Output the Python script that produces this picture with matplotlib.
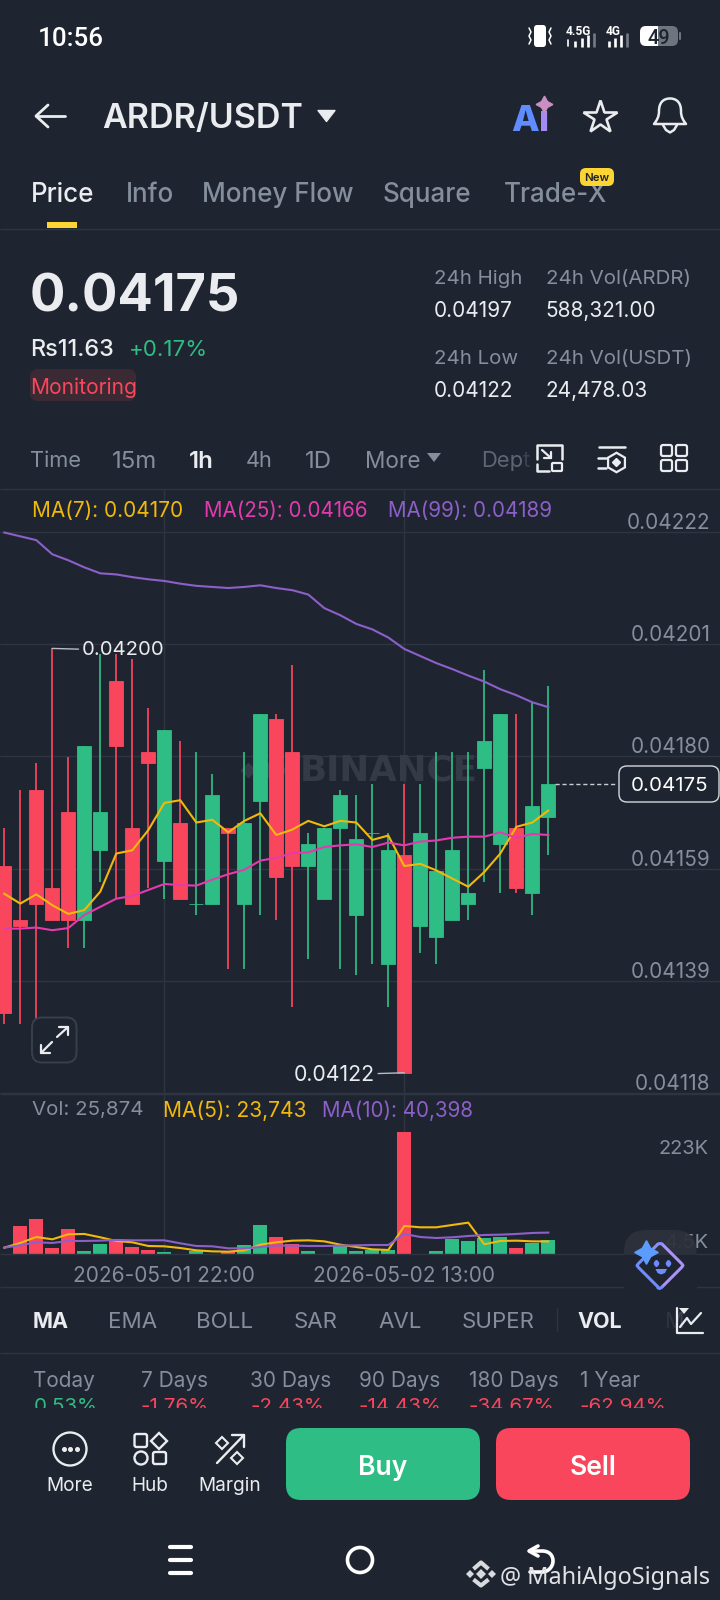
import matplotlib
matplotlib.use("Agg")
import matplotlib.pyplot as plt
import numpy as np
from matplotlib.patches import FancyBboxPatch, Circle, Rectangle, Polygon, PathPatch
from matplotlib.path import Path

# candles, 1h, oldest first
opens = [0.04160, 0.04150, 0.04174, 0.04156, 0.04170, 0.04150, 0.04163, 0.04194, 0.04167, 0.04181,
         0.04161, 0.04168, 0.04153, 0.04153, 0.04167, 0.04153, 0.04172, 0.04187, 0.04181, 0.04160,
         0.04154, 0.04167, 0.04151, 0.04166, 0.04142, 0.04162, 0.04149, 0.04147, 0.04150, 0.04153,
         0.04178, 0.04164, 0.04167, 0.04155, 0.04169]
closes = [0.04133, 0.04149, 0.04153, 0.04150, 0.04150, 0.04182, 0.04170, 0.04182, 0.04153, 0.04179,
          0.04185, 0.04154, 0.04153, 0.04173, 0.04166, 0.04168, 0.04188, 0.04158, 0.04160, 0.04164,
          0.04167, 0.04173, 0.04165, 0.04166, 0.04163, 0.04122, 0.04166, 0.04159, 0.04163, 0.04155,
          0.04183, 0.04188, 0.04156, 0.04171, 0.04175]
highs = [0.04167, 0.04174, 0.04179, 0.04200, 0.04180, 0.04182, 0.04199, 0.04199, 0.04198, 0.04189,
         0.04185, 0.04183, 0.04181, 0.04177, 0.04167, 0.04181, 0.04188, 0.04188, 0.04197, 0.04166,
         0.04167, 0.04174, 0.04173, 0.04175, 0.04166, 0.04175, 0.04175, 0.04181, 0.04181, 0.04181,
         0.04196, 0.04188, 0.04188, 0.04190, 0.04193]
lows = [0.04131, 0.04131, 0.04127, 0.04150, 0.04145, 0.04145, 0.04157, 0.04154, 0.04153, 0.04156,
        0.04154, 0.04154, 0.04151, 0.04153, 0.04141, 0.04141, 0.04151, 0.04150, 0.04134, 0.04143,
        0.04154, 0.04141, 0.04140, 0.04142, 0.04134, 0.04122, 0.04144, 0.04142, 0.04150, 0.04150,
        0.04157, 0.04155, 0.04155, 0.04151, 0.04162]

ma7 = [4154.9, 4153.1, 4154.8, 4152.8, 4151.2, 4151.9, 4155.3, 4162.3, 4162.9, 4166.6,
       4171.6, 4172.1, 4168.0, 4168.5, 4166.2, 4168.3, 4169.7, 4165.7, 4166.7, 4168.3,
       4167.3, 4168.3, 4168.0, 4164.8, 4165.6, 4160.0, 4160.4, 4159.2, 4157.7, 4156.2,
       4158.9, 4162.3, 4167.2, 4168.0, 4170.2]
ma25 = [4148.5, 4148.5, 4148.7, 4148.2, 4148.6, 4151.0, 4152.5, 4154.0, 4154.5, 4155.6,
        4156.7, 4156.5, 4156.4, 4157.5, 4158.5, 4159.3, 4161.0, 4161.5, 4162.4, 4162.5,
        4163.5, 4163.8, 4164.0, 4163.5, 4164.3, 4163.8, 4164.5, 4164.7, 4165.2, 4165.4,
        4165.4, 4166.2, 4165.2, 4165.9, 4165.7]
ma99 = [4221.3, 4220.6, 4219.9, 4217.3, 4216.2, 4214.9, 4213.8, 4213.6, 4213.1, 4212.7,
        4212.4, 4211.9, 4211.5, 4211.3, 4211.1, 4211.3, 4211.6, 4211.1, 4210.7, 4209.9,
        4207.4, 4206.1, 4204.5, 4203.5, 4202.0, 4199.9, 4198.6, 4197.3, 4196.2, 4195.0,
        4193.9, 4192.5, 4191.4, 4190.1, 4189.2]

# volume in thousands
volumes = [0.3, 53.5, 65.5, 11.3, 47.8, 6.2, 19.5, 28.9, 12.7, 7.0,
           3.2, 0.3, 6.2, 0.3, 4.3, 16.4, 54.2, 31.5, 18.9, 5.1,
           0.3, 16.4, 6.2, 7.6, 7.0, 230.0, 0.3, 6.2, 28.3, 24.6,
           30.8, 31.5, 11.3, 20.8, 25.9]
vol_ma5 = [12.0, 20.8, 32.1, 27.7, 37.2, 37.8, 31.5, 24.6, 22.1, 15.1,
           14.5, 11.3, 6.9, 5.0, 4.4, 6.9, 17.6, 22.1, 25.2, 25.8,
           23.9, 17.6, 13.2, 8.8, 7.6, 52.9, 50.4, 50.4, 54.8, 59.2,
           18.3, 24.6, 25.2, 23.9, 23.7]
vol_ma10 = [12.0, 16.4, 22.1, 20.8, 24.6, 24.6, 25.2, 26.5, 25.8, 25.8,
            25.8, 20.2, 15.1, 14.5, 10.7, 10.7, 13.2, 15.8, 15.8, 15.1,
            15.1, 15.8, 16.4, 17.0, 17.0, 37.8, 32.1, 30.2, 31.5, 34.0,
            35.9, 36.5, 37.8, 39.7, 40.4]

grid_prices = [0.042214, 0.042008, 0.041802, 0.041595, 0.041389, 0.041183]
grid_labels = ["0.04222", "0.04201", "0.04180", "0.04159", "0.04139", "0.04118"]
date_idx = [10, 25]
date_labels = ["2026-05-01 22:00", "2026-05-02 13:00"]
last_price = 0.04175

tabs = ["Price", "Info", "Money Flow", "Square", "Trade-X"]
intervals = ["Time", "15m", "1h", "4h", "1D", "More"]
indicators = ["MA", "EMA", "BOLL", "SAR", "AVL", "SUPER", "VOL"]
perf_names = ["Today", "7 Days", "30 Days", "90 Days", "180 Days", "1 Year"]
perf_values = ["0.53%", "-1.76%", "-2.43%", "-14.43%", "-34.67%", "-62.94%"]

BG = "#1f2530"
GRID = "#2e3440"
GREEN = "#2ebd85"
RED = "#fa465d"
ORANGE = "#f0b90b"
PINK = "#e33bae"
PURPLE = "#8c5fc9"
GREY = "#848e9c"
LIGHT = "#eaecef"
FONT = "Inter"

plt.rcParams["font.family"] = [FONT, "DejaVu Sans"]
fig = plt.figure(figsize=(7.2, 16), dpi=100, facecolor=BG)
W, H = 720.0, 1600.0


def make_axes(top, bottom):
    ax = fig.add_axes([0, 1 - bottom / H, 1, (bottom - top) / H], facecolor="none")
    ax.set_xlim(-4.3 / 16, (W - 4.3) / 16)
    for s in ax.spines.values():
        s.set_visible(False)
    ax.tick_params(length=0)
    return ax


idx = np.arange(len(opens))
o, c, hi, lo = map(np.array, (opens, closes, highs, lows))
colors = [GREEN if b >= a else RED for a, b in zip(o, c)]

# price panel
ax = make_axes(489, 1094)
ax.set_ylim(0.041181, 0.042293)
ax.set_yticks([])
ax.set_xticks([])
ax.hlines(grid_prices, ax.get_xlim()[0], ax.get_xlim()[1], color=GRID, lw=1.0, zorder=1)
ax.axvline(date_idx[0], color=GRID, lw=1.0, zorder=1)
ax.axvline(date_idx[1], color=GRID, lw=1.0, zorder=1)
# exchange watermark sits behind the candles
ax.text(24.04, 0.041776, "BINANCE", ha="center", va="center", color="#343b47",
        fontsize=25.7, fontweight="bold", zorder=1.5, family="DejaVu Sans")
ax.plot([15.2, 16.5, 17.8], [0.041776, 0.041776, 0.041776], ls="none", marker="D", ms=7,
        color="#343b47", zorder=1.5)
ax.vlines(idx, lo, hi, color=colors, lw=1.25, zorder=2)
ax.bar(idx, np.abs(c - o), bottom=np.minimum(o, c), width=0.875, color=colors,
       edgecolor=colors, lw=0.6, zorder=3)
ax.plot(idx, np.array(ma7) / 1e5, color=ORANGE, lw=1.5, zorder=4)
ax.plot(idx, np.array(ma25) / 1e5, color=PINK, lw=1.5, zorder=4)
ax.plot(idx, np.array(ma99) / 1e5, color=PURPLE, lw=1.5, zorder=4)
ax.plot([34.4, 38.2], [last_price, last_price], color="#c9ccd1", lw=1.0, dashes=(3, 2), zorder=4)
for p, lab in zip(grid_prices, grid_labels):
    ax.annotate(lab, (1, p), xycoords=ax.get_yaxis_transform(), xytext=(-9.5, 9),
                textcoords="offset pixels", ha="right", va="center", color=GREY, fontsize=14.9)
ax.annotate("0.04200", xy=(3, 0.04200), xytext=(29, -2), textcoords="offset pixels",
            va="center", ha="left", color=LIGHT, fontsize=14.6, zorder=5,
            arrowprops=dict(arrowstyle="-", color="#b7bcc4", lw=1.0, shrinkA=0, shrinkB=0))
ax.annotate("0.04122", xy=(25, 0.04122), xytext=(-29, -2), textcoords="offset pixels",
            va="center", ha="right", color=LIGHT, fontsize=15.3, zorder=5,
            arrowprops=dict(arrowstyle="-", color="#b7bcc4", lw=1.0, shrinkA=0, shrinkB=0))

# volume panel
ax2 = make_axes(1094, 1254)
ax2.set_ylim(0, 302)
ax2.set_yticks([])
ax2.axvline(date_idx[0], color=GRID, lw=1.0, zorder=1)
ax2.axvline(date_idx[1], color=GRID, lw=1.0, zorder=1)
ax2.bar(idx, volumes, width=0.875, color=colors, zorder=3)
ax2.plot(idx, vol_ma5, color=ORANGE, lw=1.5, zorder=4)
ax2.plot(idx, vol_ma10, color=PURPLE, lw=1.5, zorder=4)
ax2.set_xticks(date_idx)
ax2.set_xticklabels(date_labels, color=GREY, fontsize=15)
ax2.tick_params(axis="x", pad=8.5)

# everything around the chart, in screen pixels
ui = fig.add_axes([0, 0, 1, 1], facecolor="none")
ui.set_xlim(0, W)
ui.set_ylim(H, 0)
ui.axis("off")


def txt(x, y, s, px, color=LIGHT, ha="left", weight="normal", family=None, z=10, alpha=None):
    fam = family if family else [FONT, "DejaVu Sans"]
    return ui.text(x, y, s, fontsize=px * 0.72, color=color, ha=ha, va="center_baseline",
                   fontweight=weight, family=fam, zorder=z, alpha=alpha)


def line(xs, ys, color=LIGHT, lw=1.5, z=10, cap="round"):
    ui.plot(xs, ys, color=color, lw=lw, zorder=z, solid_capstyle=cap, solid_joinstyle="round")


def rrect(x0, y0, x1, y1, r, fc="none", ec="none", lw=0, z=9, alpha=None):
    ui.add_patch(FancyBboxPatch((x0 + r, y0 + r), x1 - x0 - 2 * r, y1 - y0 - 2 * r,
                                boxstyle=f"round,pad={r},rounding_size={r}", fc=fc, ec=ec, lw=lw,
                                zorder=z, alpha=alpha))


def hline(y, x0=0, x1=W, color=GRID):
    ui.plot([x0, x1], [y, y], color=color, lw=1.0, zorder=2, solid_capstyle="butt")


for y in (228.5, 489, 1094, 1254, 1287, 1353):
    hline(y)

# status bar
txt(37.5, 36, "10:56", 26, "#ffffff", weight="medium", family="Roboto")
rrect(534, 25, 546, 47, 3, fc="#ffffff")
for sx, d in ((529, -1), (551, 1)):
    line([sx, sx - 2 * d, sx, sx - 2 * d, sx], [28, 32, 36, 40, 44], "#ffffff", 1.1)
txt(566, 30, "4.5G", 12, "#ffffff", weight="bold", family="Roboto")
txt(606, 30, "4G", 12, "#ffffff", weight="bold", family="Roboto")
line([568, 568], [40, 46], "#ffffff", 1.2)
for bx, top, col in ((575, 41, "#ffffff"), (582, 38, "#ffffff"), (588, 35, "#ffffff"), (594, 33, "#757b85"),
                     (609, 41, "#ffffff"), (615, 38, "#ffffff"), (621, 35, "#ffffff"), (627, 33, "#757b85")):
    line([bx, bx], [top, 46.5], col, 1.9, cap="butt")
rrect(640, 26, 678, 46, 6, fc="#6f757f")
rrect(640, 26, 662, 46, 6, fc="#ffffff", z=9.1)
ui.add_patch(Rectangle((657.5, 26), 8, 20, fc="#6f757f", zorder=9.2))
txt(659, 36, "49", 20, "#1f2530", ha="center", weight="medium", family="Roboto")
rrect(679, 32, 681, 40, 1, fc="#6f757f")

# nav bar
line([65, 36], [116, 116], LIGHT, 2.0)
line([48, 36, 48], [105, 116, 127], LIGHT, 2.0)
txt(102, 116, "ARDR/USDT", 34, LIGHT, weight="semibold")
ui.add_patch(Polygon([(318, 110.5), (335, 110.5), (326.5, 121.5)], fc=LIGHT, ec=LIGHT, lw=1, joinstyle="round", zorder=10))
txt(511, 118, "A", 36, "#5f8dff", weight="heavy")
txt(538, 118, "i", 36, "#a68cf2", weight="heavy")
ui.plot([544], [104], marker=(4, 1, 0), ms=12, color="#c98fc4", zorder=11)
ui.plot([600], [116.5], marker="*", ms=25, mfc="none", mec=LIGHT, mew=1.9, zorder=10)
bell = Path([(654, 124), (657, 120), (659, 117), (659, 111), (659, 103), (663, 98.5), (670, 98.5),
             (677, 98.5), (681, 103), (681, 111), (681, 117), (683, 120), (686, 124), (654, 124), (654, 124)],
            [Path.MOVETO, Path.CURVE4, Path.CURVE4, Path.CURVE4, Path.CURVE4, Path.CURVE4, Path.CURVE4,
             Path.CURVE4, Path.CURVE4, Path.CURVE4, Path.CURVE4, Path.CURVE4, Path.CURVE4, Path.LINETO,
             Path.CLOSEPOLY])
ui.add_patch(PathPatch(bell, fc="none", ec=LIGHT, lw=1.8, joinstyle="round", zorder=10))
line([663, 666, 670, 674, 677], [125, 130, 132.5, 130, 125], LIGHT, 1.8)

# tabs
for s, x, col in zip(tabs, (30.5, 125.5, 201.5, 382.5, 503.5), (LIGHT, GREY, GREY, GREY, GREY)):
    txt(x, 191.5, s, 26, col, weight="medium")
ui.add_patch(Rectangle((47, 222), 30, 6, fc="#fcd535", zorder=10))
rrect(580, 168, 614, 186, 6, fc="#fcd535", z=11)
txt(597, 177, "New", 11.5, "#1e2329", ha="center", weight="semibold", z=12)

# header numbers
txt(29.5, 292.5, "0.04175", 52.5, LIGHT, weight="bold")
txt(30.5, 347.5, "Rs11.63", 23.5, LIGHT, weight="medium")
txt(129, 347.5, "+0.17%", 22.3, GREEN)
rrect(30, 369, 136, 401, 8, fc="#3b2a33")
txt(30, 386, "Monitoring", 21, RED, z=10)
for x, a, b, d, e in ((434, "24h High", "0.04197", "24h Low", "0.04122"),
                      (546, "24h Vol(ARDR)", "588,321.00", "24h Vol(USDT)", "24,478.03")):
    txt(x, 277, a, 20.5, GREY)
    txt(x - 0.5, 309, b, 20.8, LIGHT)
    txt(x, 357, d, 20.5, GREY)
    txt(x - 0.5, 389, e, 20.8, LIGHT)

# interval row
for s, x, px in zip(intervals, (30, 112, 188.5, 246, 304.5, 365),
                    (21.8, 24, 24, 21.8, 24, 22.5)):
    txt(x, 459, s, px, LIGHT if s == "1h" else GREY, weight="semibold" if s == "1h" else "normal")
ui.add_patch(Polygon([(427, 453), (441, 453), (434, 462)], fc=GREY, zorder=10))
txt(481, 459, "Dep", 22, "#5e6673")
txt(523, 459, "t", 22, "#3a414c")
# split-view icon
line([537, 537, 562, 562], [459, 445, 445, 459], LIGHT, 1.8)
line([537, 537, 549], [464, 471, 471], LIGHT, 1.8)
rrect(552, 463, 562, 471, 1, ec=LIGHT, lw=1.6)
line([542, 551], [450, 458], LIGHT, 1.6)
line([551, 551, 544], [452, 458, 458], LIGHT, 1.6)
# settings icon
line([599, 625], [447, 447], LIGHT, 1.8)
line([598, 606], [458, 458], LIGHT, 1.8)
line([598, 606], [468, 468], LIGHT, 1.8)
ui.plot([616], [462], marker="h", ms=14, mfc="none", mec=LIGHT, mew=1.6, zorder=10)
ui.plot([616], [462], marker="D", ms=4, color=LIGHT, zorder=10)
# layout icon
for gx in (661, 676):
    for gy in (445, 460):
        rrect(gx, gy, gx + 11, gy + 11, 2, ec=LIGHT, lw=1.6)

# chart legends
txt(32, 509, "MA(7): 0.04170", 20.8, ORANGE)
txt(204, 509, "MA(25): 0.04166", 20.6, PINK)
txt(387.5, 509, "MA(99): 0.04189", 20.6, PURPLE)
txt(32.5, 1108.5, "Vol: 25,874", 20.5, GREY)
txt(163, 1108.5, "MA(5): 23,743", 21, ORANGE)
txt(322.5, 1108.5, "MA(10): 40,398", 20.6, PURPLE)
txt(709, 1147, "223K", 20, GREY, ha="right")
txt(709, 1241, "4.5K", 20, GREY, ha="right", z=7)

# last price tag
rrect(619, 766, 719, 802, 8, fc=BG, ec="#d5d8dc", lw=1.0)
txt(669, 784, "0.04175", 20.5, "#ffffff", ha="center")

# expand button
rrect(32, 1017.5, 76.5, 1062.5, 10, fc=BG, ec="#3a404b", lw=1.4)
line([41, 52], [1053, 1042], LIGHT, 1.6)
line([41, 41, 50], [1045, 1053, 1053], LIGHT, 1.6)
line([57, 68], [1037, 1027], LIGHT, 1.6)
line([59, 68, 68], [1027, 1027, 1035], LIGHT, 1.6)

# assistant bubble
rrect(624, 1230, 696.5, 1278, 22, fc="#2c313b", z=8, alpha=0.93)
ui.add_patch(Rectangle((624, 1254.5), 72.5, 34, fc=BG, zorder=8.2))
BLUE_A = "#6f8cff"
PURP_A = "#a993f5"
line([662, 681.5, 683, 681.5, 662], [1244, 1263.5, 1265.5, 1267.5, 1287], PURP_A, 2.2)
line([658, 660, 662], [1288, 1288.5, 1287], BLUE_A, 2.2)
line([658, 638.5, 637, 638.5, 643], [1287, 1267.5, 1265.5, 1263.5, 1259], BLUE_A, 2.2)
line([652, 658, 660, 662], [1250, 1244, 1243.5, 1244], "#8d8ff8", 2.2)
ui.plot([645.7], [1251.7], marker=(4, 1, 0), ms=17, color="#5b9dff", zorder=10)
ui.plot([655.7, 667.7], [1263, 1263], ls="none", marker="o", ms=4, mew=0, color="#6f8cff", zorder=10)
line([655.7, 655.7], [1261, 1265], "#6f8cff", 2.2)
line([667.7, 667.7], [1261, 1265], "#6f8cff", 2.2)
ui.add_patch(Polygon([(655.5, 1269), (667, 1269), (665, 1273), (661, 1274.5), (657.5, 1273)],
                     fc="#6f8cff", zorder=10))

# indicator row
for s, x in zip(indicators, (32.5, 108, 196.5, 293.5, 378.5, 461.5, 577.5)):
    on = s in ("MA", "VOL")
    txt(x, 1320.5, s, 22.3 if not on else 21.5, LIGHT if on else GREY, weight="bold" if on else "normal")
line([556.5, 556.5], [1308, 1331], GRID, 1.0)
txt(664, 1320.5, "M", 21.5, "#3a414c")
ui.add_patch(Rectangle((664, 1300), 12, 40, fc=BG, alpha=0.4, zorder=11))
line([677, 677, 703], [1308, 1333, 1333], LIGHT, 1.6, z=12)
line([680, 687, 691, 701], [1327, 1318, 1324, 1313], LIGHT, 1.6, z=12)
ui.add_patch(Polygon([(679, 1308), (689, 1308), (684, 1314)], fc=LIGHT, zorder=12))

# performance row, values are cut by the bottom bar
for s, v, x in zip(perf_names, perf_values, (33.5, 141, 250.5, 359, 469, 579.5)):
    txt(x, 1379, s, 20.8, GREY)
    txt(x, 1405.5, v, 20.5, GREEN if not v.startswith("-") else RED, z=3)
ui.add_patch(Rectangle((0, 1407.5), W, 192.5, fc=BG, zorder=4))

# bottom actions
ui.add_patch(Circle((70, 1449), 16.5, fc="none", ec=LIGHT, lw=1.7, zorder=10))
ui.plot([63.5, 70, 76.5], [1449, 1449, 1449], ls="none", marker="o", ms=2.6, color=LIGHT, zorder=10)
txt(70, 1484, "More", 19, LIGHT, ha="center")
rrect(134.5, 1434, 147, 1447, 2, ec=LIGHT, lw=1.7)
ui.add_patch(Polygon([(159, 1433), (167, 1441), (159, 1449), (151, 1441)], fc="none", ec=LIGHT, lw=1.7, zorder=10))
ui.add_patch(Circle((141, 1458), 6.5, fc="none", ec=LIGHT, lw=1.7, zorder=10))
rrect(153, 1452, 166, 1464, 2, ec=LIGHT, lw=1.7)
txt(150, 1484, "Hub", 19, LIGHT, ha="center")
line([217, 244], [1463, 1435], LIGHT, 1.7)
line([232, 244, 244], [1435, 1435, 1447], LIGHT, 1.7)
ui.plot([222, 236.5], [1443, 1458], ls="none", marker="D", ms=6, mfc="none", mec=LIGHT, mew=1.5, zorder=10)
txt(230, 1484, "Margin", 19, LIGHT, ha="center")
rrect(286, 1428, 480, 1500, 15, fc=GREEN)
rrect(496, 1428, 690, 1500, 15, fc=RED)
txt(383, 1465, "Buy", 26.5, "#ffffff", ha="center", weight="semibold")
txt(593, 1465, "Sell", 26.5, "#ffffff", ha="center", weight="semibold")

# system buttons
for y in (1547, 1560, 1573):
    line([170, 191], [y, y], "#ffffff", 3.0)
ui.add_patch(Circle((360, 1560), 12.5, fc="none", ec="#ffffff", lw=2.6, zorder=10))
back = Path([(530, 1551), (542, 1551), (550, 1551), (553, 1556), (553, 1561), (553, 1567), (548, 1572), (542, 1572), (530, 1572)],
            [Path.MOVETO, Path.LINETO, Path.CURVE4, Path.CURVE4, Path.CURVE4, Path.CURVE4, Path.CURVE4, Path.CURVE4, Path.LINETO])
ui.add_patch(PathPatch(back, fc="none", ec="#ffffff", lw=2.6, capstyle="round", zorder=10))
line([538, 529, 538], [1546, 1551, 1556], "#ffffff", 2.6)

# reposter's mark across the bottom corner
for mx, my, ms in ((470, 1574, 3.6), (491.5, 1574, 3.6), (481, 1574, 4.6)):
    ui.plot([mx], [my], marker="D", ms=ms, mew=0, color="#d8dade", zorder=12)
line([473.5, 481, 488.5], [1569, 1562.5, 1569], "#d8dade", 3.0, z=12, cap="butt")
line([473.5, 481, 488.5], [1579.5, 1585.5, 1579.5], "#d8dade", 3.0, z=12, cap="butt")
txt(500, 1575, "@ MahiAlgoSignals", 23.5, "#e0e2e5", family="Noto Sans", z=12)

fig.savefig("out.png", dpi=100, facecolor=BG)
